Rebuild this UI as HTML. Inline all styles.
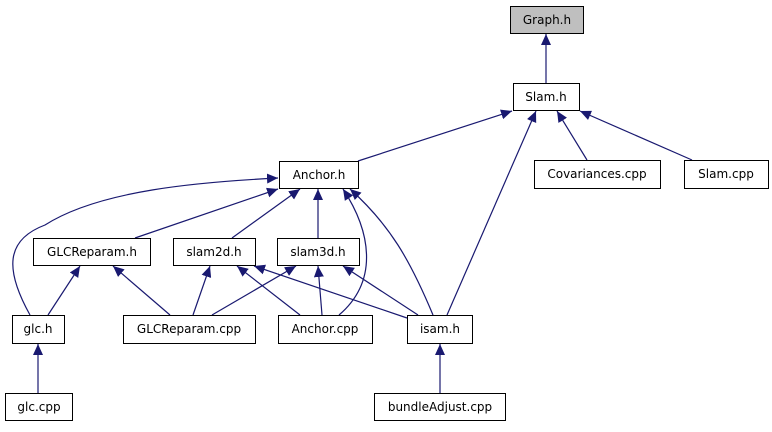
<!DOCTYPE html>
<html><head><meta charset="utf-8"><style>
body{margin:0;background:#fff}
text{font-family:"DejaVu Sans","Liberation Sans",sans-serif;font-size:12px;fill:#000}
</style></head><body>
<svg width="772" height="427" viewBox="0 0 772 427" xmlns="http://www.w3.org/2000/svg">
<defs><marker id="a" markerUnits="userSpaceOnUse" markerWidth="12" markerHeight="10" refX="11" refY="5" orient="auto"><path d="M0,0 L11,5 L0,10 z" fill="#191970"/></marker></defs>
<g stroke="#191970" stroke-width="1.2" fill="none" marker-end="url(#a)">
<path d="M546,83 L546,34"/>
<path d="M358,161 L512,111"/>
<path d="M447,315 L536,111"/>
<path d="M587,160 L557,111"/>
<path d="M692,160 L580,111"/>
<path d="M135,238 L278,189"/>
<path d="M232,238 L300,189"/>
<path d="M318,238 L318,189"/>
<path d="M30,315 C5,270 5,240 45,225 C100,190 200,182 278,178"/>
<path d="M339,315 C380,280 370,230 343,189"/>
<path d="M433,315 C410,260 390,225 350,189"/>
<path d="M48,315 L80,266"/>
<path d="M170,315 L113,266"/>
<path d="M193,315 L210,266"/>
<path d="M212,315 L296,266"/>
<path d="M300,315 L237,266"/>
<path d="M322,315 L318,266"/>
<path d="M407,318 L254,266"/>
<path d="M418,315 L343,266"/>
<path d="M38,393 L38,344"/>
<path d="M440,393 L440,344"/>
</g>
<g stroke="#000" stroke-width="1" fill="#fff">
<rect x="510.5" y="6.5" width="73" height="27" fill="#bfbfbf"/>
<rect x="513.5" y="83.5" width="66" height="27"/>
<rect x="534.5" y="160.5" width="126" height="28"/>
<rect x="684.5" y="160.5" width="84" height="28"/>
<rect x="279.5" y="161.5" width="79" height="27"/>
<rect x="33.5" y="238.5" width="117" height="27"/>
<rect x="173.5" y="238.5" width="82" height="27"/>
<rect x="277.5" y="238.5" width="82" height="27"/>
<rect x="12.5" y="315.5" width="52" height="28"/>
<rect x="123.5" y="315.5" width="132" height="28"/>
<rect x="278.5" y="315.5" width="94" height="28"/>
<rect x="407.5" y="315.5" width="65" height="28"/>
<rect x="5.5" y="393.5" width="67" height="27"/>
<rect x="374.5" y="393.5" width="131" height="27"/>
</g>
<g text-anchor="middle">
<text x="547" y="24">Graph.h</text>
<text x="546" y="101">Slam.h</text>
<text x="597" y="178">Covariances.cpp</text>
<text x="726" y="178">Slam.cpp</text>
<text x="319" y="179">Anchor.h</text>
<text x="92" y="256">GLCReparam.h</text>
<text x="214" y="256">slam2d.h</text>
<text x="318" y="256">slam3d.h</text>
<text x="38" y="333">glc.h</text>
<text x="189" y="333">GLCReparam.cpp</text>
<text x="325" y="333">Anchor.cpp</text>
<text x="440" y="333">isam.h</text>
<text x="39" y="411">glc.cpp</text>
<text x="440" y="411">bundleAdjust.cpp</text>
</g>
</svg>
</body></html>
